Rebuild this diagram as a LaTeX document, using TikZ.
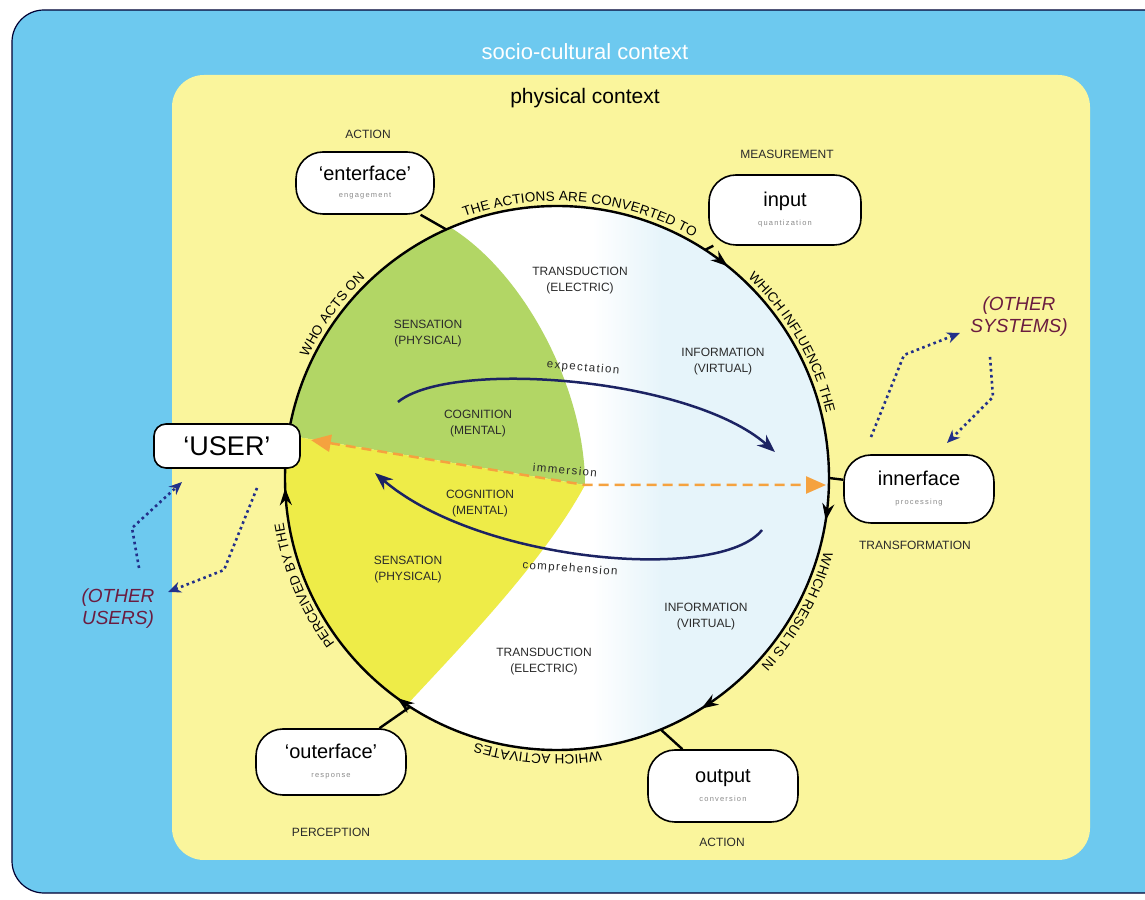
\documentclass[tikz,border=0pt]{standalone}
\usepackage{fontspec}
\setmainfont{Liberation Sans}
\newfontfamily\spacedfont[LetterSpace=16]{Liberation Sans}
\newfontfamily\trackedfont[LetterSpace=12]{Liberation Sans}
\usetikzlibrary{arrows.meta,calc,decorations.text,decorations.markings}

\definecolor{society}{HTML}{6DC9EF}
\definecolor{physical}{HTML}{FAF59C}
\definecolor{mindgreen}{HTML}{B2D665}
\definecolor{bodyyellow}{HTML}{EEEC48}
\definecolor{virtualblue}{HTML}{E6F4FA}
\definecolor{navy}{HTML}{1C2363}
\definecolor{dotblue}{HTML}{22308A}
\definecolor{immorange}{HTML}{F5A23F}
\definecolor{othermaroon}{HTML}{6B1C40}
\definecolor{inktext}{HTML}{2A2A2A}
\definecolor{subgray}{HTML}{8A8A8A}

\newcommand{\fTitle}{\fontsize{20}{22}\selectfont}
\newcommand{\fSub}{\spacedfont\fontsize{7.5}{9}\selectfont\color{subgray}}
\newcommand{\fArc}{\fontsize{13.5}{14}\selectfont}

\begin{document}
\begin{tikzpicture}[x=1pt,y=1pt,
  iface/.style={draw=black, line width=1.6pt, fill=white, rounded corners=27pt,
                align=center, inner sep=0pt},
  link/.style={line width=2.4pt, draw=black},
  stage/.style={font=\fontsize{12}{14}\selectfont, text=inktext},
  region/.style={font=\fontsize{12}{16}\selectfont, text=inktext, align=center},
  flow/.style={draw=navy, line width=2.5pt, -{Stealth[length=18pt,width=14pt]}},
  other/.style={draw=dotblue, line width=2.6pt, dash pattern=on 2.6pt off 3.4pt,
                -{Stealth[length=13pt,width=11pt]}},
  othertext/.style={font=\itshape\fontsize{19}{22}\selectfont, text=othermaroon, align=center},
  flowword/.style={font=\trackedfont\fontsize{11.5}{12}\selectfont, text=inktext},
  arctext/.style={decorate, decoration={text along path, text align=center, raise=5pt, text={#1}}},
  >={Stealth[length=17pt,width=12pt]}
]
\useasboundingbox (0,0) rectangle (1145,899);

% contexts
\filldraw[fill=society, draw=black!80!blue, line width=1.2pt, rounded corners=32pt]
  (12,6) rectangle (1175,889);
\node[font=\fontsize{22}{24}\selectfont, text=white] (social) at (585,847) {socio-cultural context};
\fill[physical, rounded corners=32pt] (172,39) rectangle (1090,824);
\node[font=\fontsize{21}{24}\selectfont, text=black] (phys) at (585,801) {physical context};

% the loop
\coordinate (C) at (557,421);
\def\R{272}
\fill[white] (C) circle[radius=\R];
\begin{scope}
  \clip (C) circle[radius=\R];
  \shade[left color=white, right color=virtualblue] (592,140) rectangle (662,710);
  \fill[virtualblue] (661,140) rectangle (840,710);
\end{scope}
\coordinate (V) at (585,414);
\fill[mindgreen] ($(C)+(113:\R)$) .. controls (525,625) and (585,510) .. (V)
  -- ($(C)+(171:\R)$) arc[start angle=171, end angle=113, radius=\R] -- cycle;
\fill[bodyyellow] (V) .. controls (545,340) and (470,262) .. ($(C)+(236.5:\R)$)
  arc[start angle=236.5, end angle=171, radius=\R] -- cycle;

\draw[link, postaction={decorate}, decoration={markings,
    mark=at position 0.025 with {\arrow{>}},
    mark=at position 0.161 with {\arrow{>}},
    mark=at position 0.350 with {\arrow{>}},
    mark=at position 0.494 with {\arrow{>}},
    mark=at position 0.858 with {\arrow{>}}}]
  ($(C)+(0:\R)$) arc[start angle=0, end angle=-360, radius=\R];

% sentences along the loop
\path[arctext={|\fArc|THE ACTIONS ARE CONVERTED TO}]
  ($(C)+(125:\R)$) arc[start angle=125, end angle=45, radius=\R];
\path[arctext={|\fArc|WHICH INFLUENCE THE}]
  ($(C)+(65:\R)$) arc[start angle=65, end angle=-5, radius=\R];
\path[arctext={|\fArc|WHICH RESULTS IN}]
  ($(C)+(6:\R)$) arc[start angle=6, end angle=-64, radius=\R];
\path[arctext={|\fArc|WHICH ACTIVATES}]
  ($(C)+(-54:\R)$) arc[start angle=-54, end angle=-134, radius=\R];
\path[arctext={|\fArc|PERCEIVED BY THE}]
  ($(C)+(243:\R)$) arc[start angle=243, end angle=163, radius=\R];
\path[arctext={|\fArc|WHO ACTS ON}]
  ($(C)+(174:\R)$) arc[start angle=174, end angle=114, radius=\R];

% regions inside the loop
\node[region] (tr1) at (580,618) {TRANSDUCTION\\(ELECTRIC)};
\node[region] (se1) at (428,565) {SENSATION\\(PHYSICAL)};
\node[region] (in1) at (723,537) {INFORMATION\\(VIRTUAL)};
\node[region] (co1) at (478,475) {COGNITION\\(MENTAL)};
\node[region] (co2) at (480,395) {COGNITION\\(MENTAL)};
\node[region] (se2) at (408,329) {SENSATION\\(PHYSICAL)};
\node[region] (in2) at (706,282) {INFORMATION\\(VIRTUAL)};
\node[region] (tr2) at (544,237) {TRANSDUCTION\\(ELECTRIC)};

% expectation / comprehension / immersion
\coordinate (expS) at (398,497);
\coordinate (expE) at (775,447);
\draw[flow] (expS) .. controls (450,540) and (690,522) .. (expE);
\node[flowword, rotate=-5] (expw) at (583,531) {expectation};
\coordinate (comS) at (762,369);
\coordinate (comE) at (375,426);
\draw[flow] (comS) .. controls (720,316) and (480,336) .. (comE);
\node[flowword, rotate=-4] (comw) at (570,330) {comprehension};
\node[flowword, rotate=-5] (immw) at (565,429) {immersion};

% interface stations
\node[iface, minimum width=138pt, minimum height=62pt] (enterface) at (365,716)
  {\fTitle `enterface'\\[5pt]\fSub engagement};
\node[iface, minimum width=152pt, minimum height=70pt] (input) at (785,689)
  {\fTitle input\\[7pt]\fSub quantization};
\node[iface, minimum width=150pt, minimum height=68pt] (innerface) at (919,410)
  {\fTitle innerface\\[7pt]\fSub processing};
\node[iface, minimum width=150pt, minimum height=72pt] (output) at (723,113)
  {\fTitle output\\[7pt]\fSub conversion};
\node[iface, minimum width=150pt, minimum height=66pt] (outerface) at (331,137)
  {\fTitle `outerface'\\[7pt]\fSub response};

\coordinate (pEnt) at ($(C)+(114:\R)$);
\coordinate (pInp) at ($(C)+(57:\R)$);
\coordinate (pInn) at ($(C)+(0:\R)$);
\coordinate (pOut) at ($(C)+(-67.6:\R)$);
\coordinate (pOuter) at ($(C)+(-122.7:\R)$);
\draw[link] (enterface) -- (pEnt);
\draw[link] (input) -- (pInp);
\draw[link] (innerface) -- (pInn);
\draw[link] (output) -- (pOut);
\draw[link] (outerface) -- (pOuter);

\node[draw=black, line width=1.6pt, fill=white, rounded corners=12pt,
      minimum width=146pt, minimum height=44pt, font=\fontsize{27}{30}\selectfont]
  (user) at (227,453) {`USER'};

% stage labels
\node[stage] (lAct1) at (368,765) {ACTION};
\node[stage] (lMeas) at (787,745) {MEASUREMENT};
\node[stage] (lTrans) at (915,354) {TRANSFORMATION};
\node[stage] (lAct2) at (722,57) {ACTION};
\node[stage] (lPerc) at (331,67) {PERCEPTION};

% immersion link
\coordinate (imR) at (826,414);
\draw[draw=immorange, line width=2.5pt, dash pattern=on 10pt off 6pt,
      {Triangle[length=20pt,width=17pt]}-{Triangle[length=20pt,width=17pt]}]
  ([shift={(10pt,6pt)}]user.east) -- (V) -- (imR);

% other systems and other users
\node[othertext] (osys) at (1019,582) {(OTHER\\SYSTEMS)};
\node[othertext] (ousr) at (118,290) {(OTHER\\USERS)};
\coordinate (s1a) at (871,462);
\coordinate (s1b) at (904,544);
\coordinate (s1c) at (960,566);
\coordinate (s2a) at (990,542);
\coordinate (s2b) at (993,502);
\coordinate (s2c) at (947,456);
\draw[other] (s1a) -- (s1b) -- (s1c);
\draw[other] (s2a) -- (s2b) -- (s2c);
\coordinate (u1a) at (139,331);
\coordinate (u1b) at (132,371);
\coordinate (u1c) at (182,417);
\coordinate (u2a) at (257,411);
\coordinate (u2b) at (224,329);
\coordinate (u2c) at (168,307);
\draw[other] (u1a) -- (u1b) -- (u1c);
\draw[other] (u2a) -- (u2b) -- (u2c);
\end{tikzpicture}
\end{document}
